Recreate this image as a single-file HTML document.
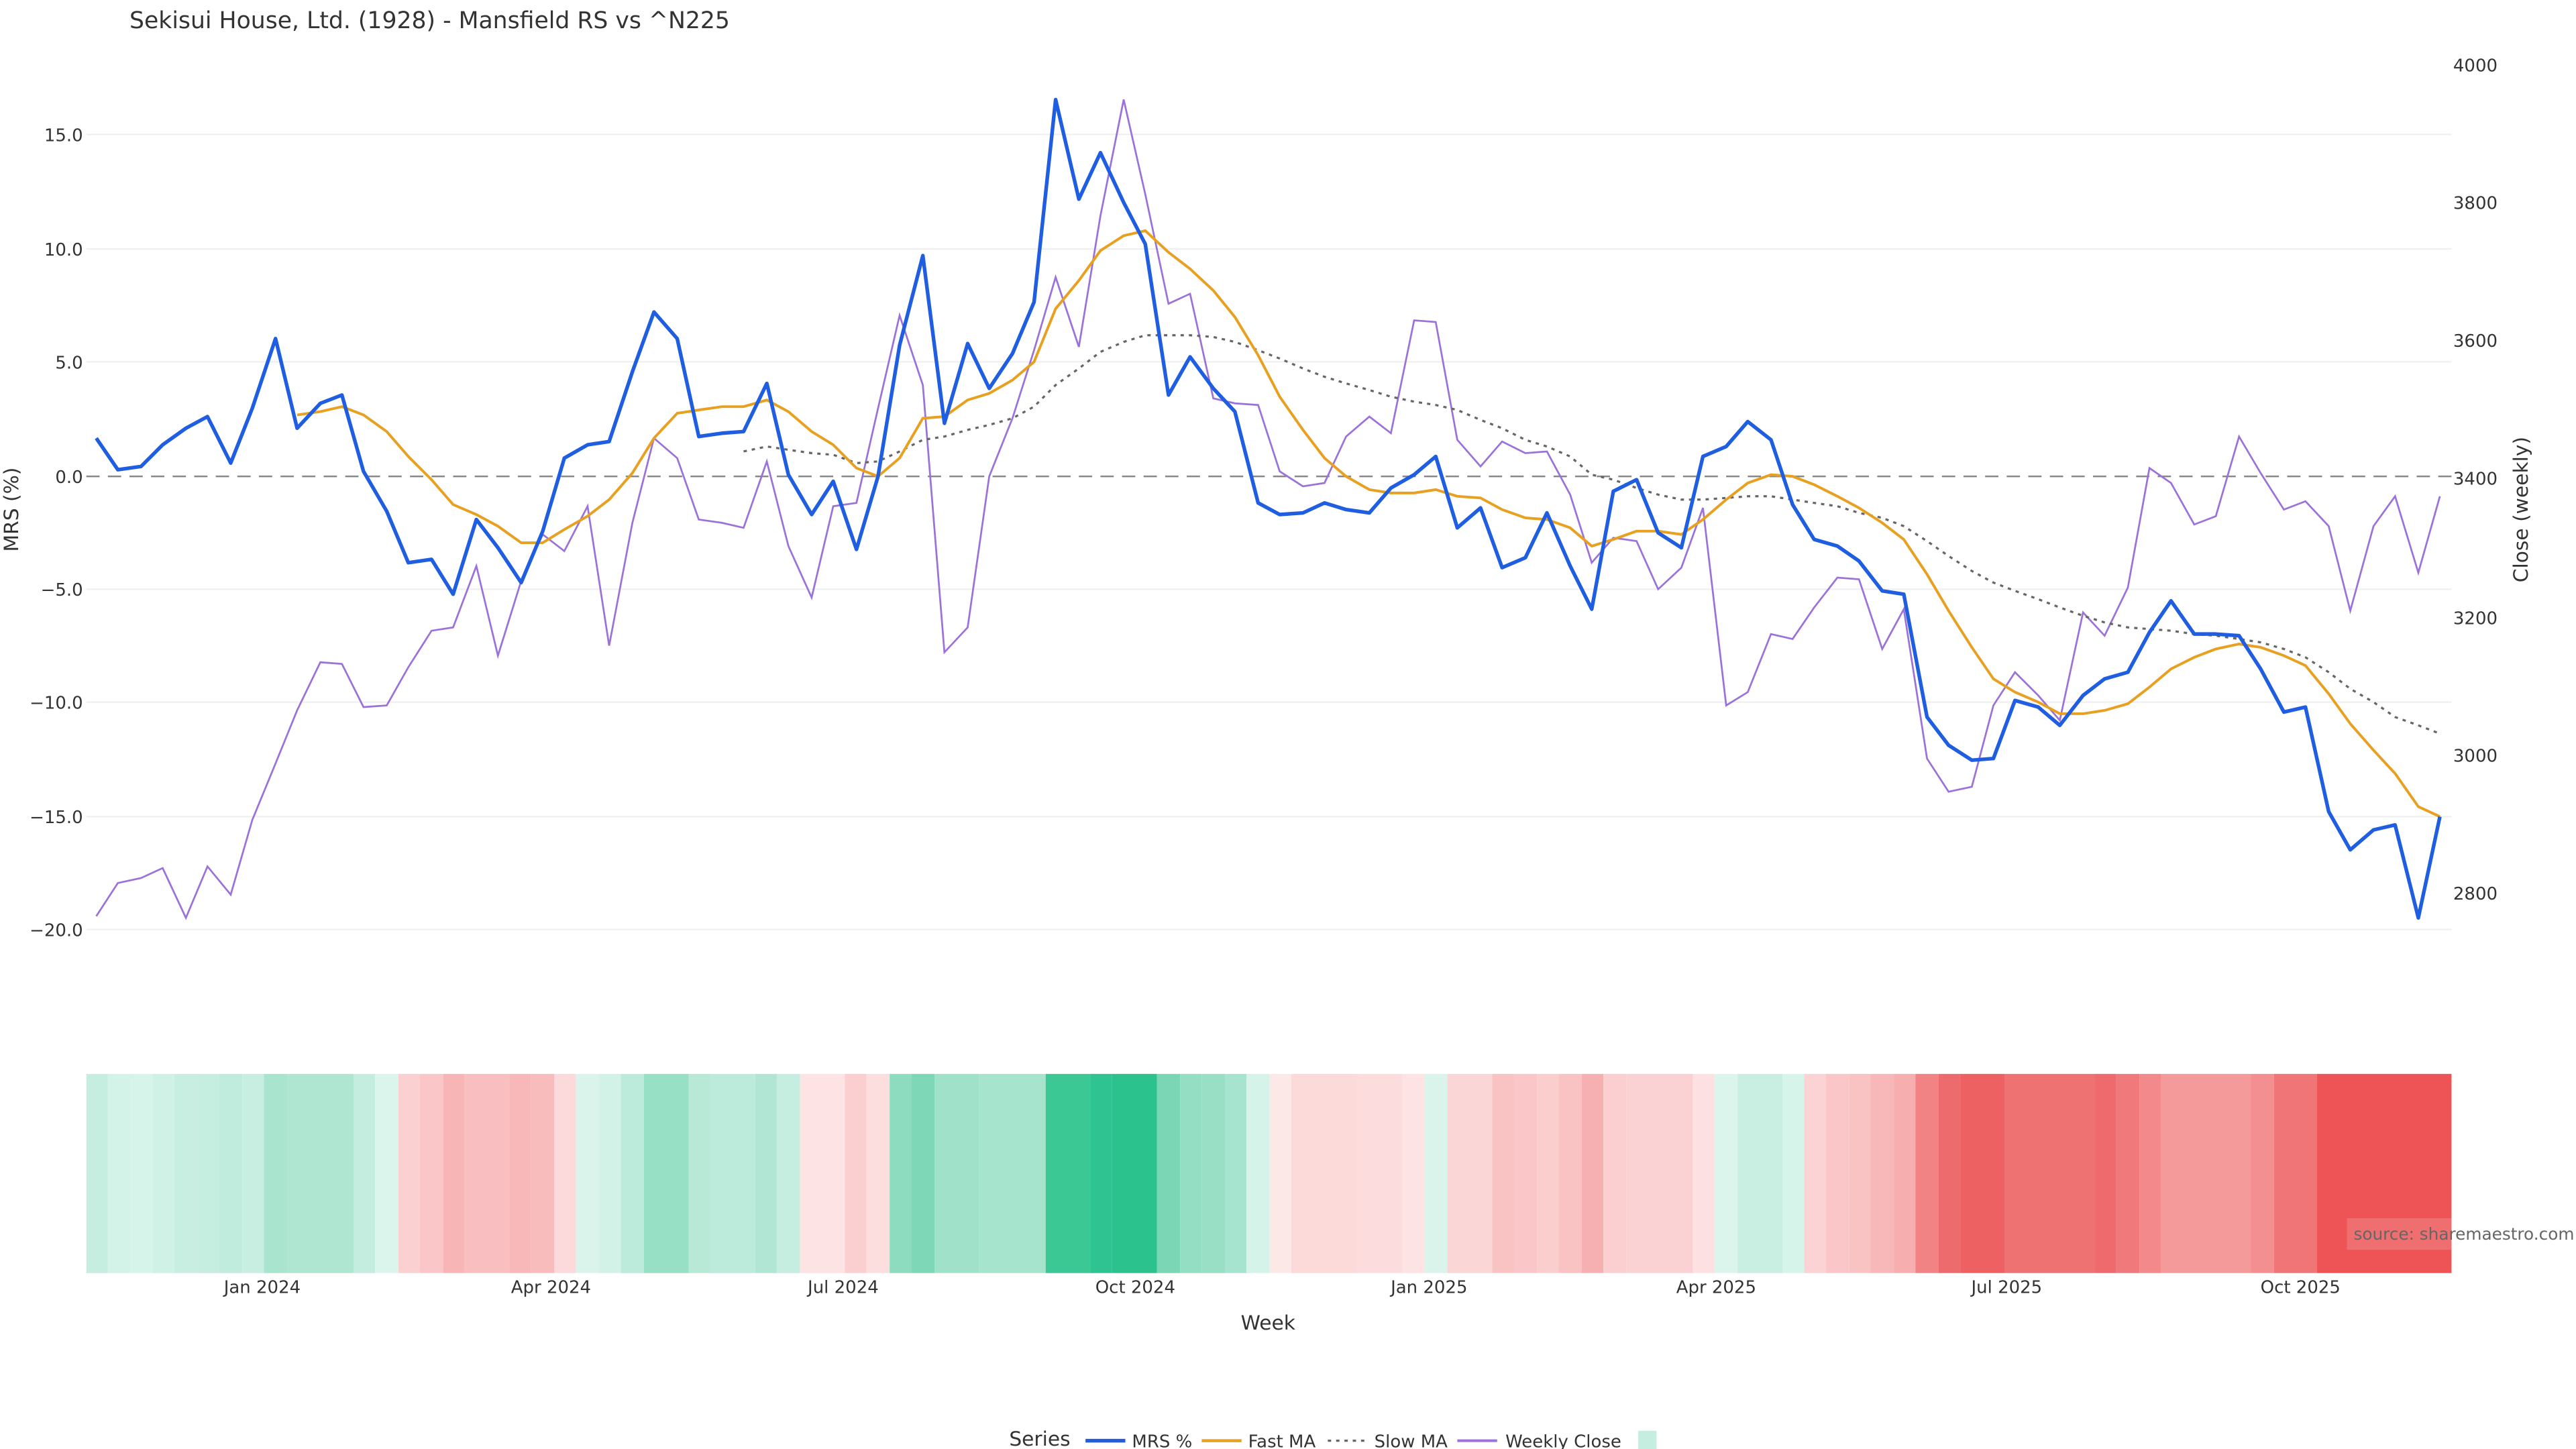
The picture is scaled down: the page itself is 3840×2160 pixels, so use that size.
<!DOCTYPE html>
<html><head><meta charset="utf-8"><style>
html,body{margin:0;padding:0;background:#fff}
svg{display:block}
text{font-family:"DejaVu Sans","Liberation Sans",sans-serif;fill:#333}
</style></head><body>
<svg width="3840" height="2160" viewBox="0 0 1552 873" xmlns="http://www.w3.org/2000/svg">
<text x="78" y="17" font-size="14">Sekisui House, Ltd. (1928) - Mansfield RS vs ^N225</text>
<g stroke="#eeeeee" stroke-width="0.8">
<line x1="52" x2="1477" y1="81" y2="81"/><line x1="52" x2="1477" y1="150" y2="150"/>
<line x1="52" x2="1477" y1="218" y2="218"/><line x1="52" x2="1477" y1="355" y2="355"/>
<line x1="52" x2="1477" y1="423" y2="423"/><line x1="52" x2="1477" y1="492" y2="492"/>
<line x1="52" x2="1477" y1="560" y2="560"/>
</g>
<line x1="52" x2="1477" y1="287" y2="287" stroke="#888" stroke-width="1" stroke-dasharray="8,5"/>
<g font-size="10.5" text-anchor="end">
<text x="50" y="85">15.0</text><text x="50" y="154">10.0</text><text x="50" y="222">5.0</text>
<text x="50" y="291">0.0</text><text x="50" y="359">−5.0</text><text x="50" y="427">−10.0</text>
<text x="50" y="496">−15.0</text><text x="50" y="564">−20.0</text>
</g>
<g font-size="10.5">
<text x="1478" y="43">4000</text><text x="1478" y="126">3800</text><text x="1478" y="209">3600</text>
<text x="1478" y="292">3400</text><text x="1478" y="376">3200</text><text x="1478" y="459">3000</text>
<text x="1478" y="542">2800</text>
</g>
<text transform="translate(11,307) rotate(-90)" font-size="12" text-anchor="middle">MRS (%)</text>
<text transform="translate(1523,307) rotate(-90)" font-size="12" text-anchor="middle">Close (weekly)</text>

<polyline fill="none" stroke="#9b72d9" stroke-width="1.1" points="58,552 71,532 85,529 98,523 112,553 125,522 139,539 152,494 166,460 179,428 193,399 206,400 219,426 233,425 246,402 260,380 273,378 287,341 300,395 314,350 327,322 340,332 354,305 367,389 381,315 394,264 408,276 421,313 435,315 448,318 462,278 475,329 489,360 502,305 516,303 529,246 542,190 556,232 569,393 583,378 596,287 610,252 623,211 636,167 650,209 663,130 677,60 690,117 704,183 717,177 731,240 744,243 758,244 771,284 785,293 798,291 811,263 825,251 838,261 852,193 865,194 878,265 892,281 905,266 919,273 932,272 946,298 959,339 972,324 986,326 999,355 1013,342 1026,306 1040,425 1053,417 1067,382 1080,385 1093,366 1107,348 1120,349 1134,391 1147,367 1161,457 1174,477 1188,474 1201,425 1214,405 1228,419 1241,434 1255,369 1268,383 1282,354 1295,282 1308,291 1322,316 1335,311 1349,263 1362,285 1376,307 1389,302 1403,317 1416,368 1430,317 1443,299 1457,345 1470,299"/>
<polyline fill="none" stroke="#666" stroke-width="1.3" stroke-dasharray="2,3" points="448,272 462,269 475,271 489,273 502,274 516,279 529,278 542,272 556,265 569,263 583,259 596,256 610,252 623,245 636,232 650,222 663,212 677,206 690,202 704,202 717,202 731,203 744,206 758,211 771,216 785,222 798,227 811,231 825,235 838,239 852,242 865,244 878,247 892,253 905,258 919,265 932,269 946,275 959,286 972,289 986,294 999,298 1013,301 1026,301 1040,300 1053,299 1067,299 1080,301 1093,303 1107,305 1120,309 1134,312 1147,317 1161,326 1174,335 1188,344 1201,351 1214,356 1228,361 1241,366 1255,371 1268,375 1282,378 1295,379 1308,380 1322,382 1335,383 1349,385 1362,387 1376,391 1389,396 1403,405 1416,415 1430,423 1443,432 1457,437 1470,442"/>
<polyline fill="none" stroke="#e8a020" stroke-width="1.6" points="179,250 193,248 206,245 219,250 233,260 246,275 260,289 273,304 287,310 300,317 314,327 327,327 340,319 354,311 367,301 381,285 394,264 408,249 421,247 435,245 448,245 462,241 475,248 489,260 502,268 516,282 529,287 542,276 556,252 569,251 583,241 596,237 610,229 623,218 636,186 650,169 663,151 677,142 690,139 704,152 717,162 731,175 744,191 758,214 771,239 785,259 798,276 811,287 825,295 838,297 852,297 865,295 878,299 892,300 905,307 919,312 932,313 946,318 959,329 972,325 986,320 999,320 1013,322 1026,313 1040,301 1053,291 1067,286 1080,287 1093,292 1107,299 1120,306 1134,315 1147,325 1161,346 1174,368 1188,390 1201,409 1214,417 1228,423 1241,430 1255,430 1268,428 1282,424 1295,414 1308,403 1322,396 1335,391 1349,388 1362,390 1376,395 1389,401 1403,418 1416,436 1430,452 1443,466 1457,486 1470,492"/>
<polyline fill="none" stroke="#1f5ee0" stroke-width="2.2" stroke-linejoin="round" points="58,264 71,283 85,281 98,268 112,258 125,251 139,279 152,246 166,204 179,258 193,243 206,238 219,284 233,308 246,339 260,337 273,358 287,313 300,330 314,351 327,320 340,276 354,268 367,266 381,224 394,188 408,204 421,263 435,261 448,260 462,231 475,286 489,310 502,290 516,331 529,287 542,208 556,154 569,255 583,207 596,234 610,213 623,182 636,60 650,120 663,92 677,122 690,147 704,238 717,215 731,234 744,248 758,303 771,310 785,309 798,303 811,307 825,309 838,294 852,286 865,275 878,318 892,306 905,342 919,336 932,309 946,341 959,367 972,296 986,289 999,321 1013,330 1026,275 1040,269 1053,254 1067,265 1080,304 1093,325 1107,329 1120,338 1134,356 1147,358 1161,432 1174,449 1188,458 1201,457 1214,422 1228,426 1241,437 1255,419 1268,409 1282,405 1295,381 1308,362 1322,382 1335,382 1349,383 1362,403 1376,429 1389,426 1403,489 1416,512 1430,500 1443,497 1457,553 1470,492"/>

<g>
<rect x="52" y="647" width="13" height="120" fill="#c6eee0"/>
<rect x="65" y="647" width="13" height="120" fill="#d3f3e8"/>
<rect x="78" y="647" width="14" height="120" fill="#d6f4ea"/>
<rect x="92" y="647" width="13" height="120" fill="#d0f1e6"/>
<rect x="105" y="647" width="14" height="120" fill="#c8eee1"/>
<rect x="119" y="647" width="13" height="120" fill="#c6eee0"/>
<rect x="132" y="647" width="14" height="120" fill="#c0ecdd"/>
<rect x="146" y="647" width="13" height="120" fill="#c8eee1"/>
<rect x="159" y="647" width="14" height="120" fill="#a9e4cf"/>
<rect x="173" y="647" width="40" height="120" fill="#afe6d2"/>
<rect x="213" y="647" width="13" height="120" fill="#c4ecdf"/>
<rect x="226" y="647" width="14" height="120" fill="#dcf5ec"/>
<rect x="240" y="647" width="13" height="120" fill="#fbd0d1"/>
<rect x="253" y="647" width="14" height="120" fill="#fac6c7"/>
<rect x="267" y="647" width="13" height="120" fill="#f8b5b6"/>
<rect x="280" y="647" width="27" height="120" fill="#f9bfc0"/>
<rect x="307" y="647" width="13" height="120" fill="#f8b7b8"/>
<rect x="320" y="647" width="14" height="120" fill="#f9bcbd"/>
<rect x="334" y="647" width="13" height="120" fill="#fcdadb"/>
<rect x="347" y="647" width="14" height="120" fill="#dbf4eb"/>
<rect x="361" y="647" width="13" height="120" fill="#d2f2e7"/>
<rect x="374" y="647" width="14" height="120" fill="#bdebdb"/>
<rect x="388" y="647" width="27" height="120" fill="#97dfc5"/>
<rect x="415" y="647" width="13" height="120" fill="#b8e9d7"/>
<rect x="428" y="647" width="27" height="120" fill="#bceadb"/>
<rect x="455" y="647" width="13" height="120" fill="#b0e6d3"/>
<rect x="468" y="647" width="14" height="120" fill="#c6eee0"/>
<rect x="482" y="647" width="27" height="120" fill="#fde3e3"/>
<rect x="509" y="647" width="13" height="120" fill="#fbcfd0"/>
<rect x="522" y="647" width="14" height="120" fill="#fcdedf"/>
<rect x="536" y="647" width="13" height="120" fill="#8edcc0"/>
<rect x="549" y="647" width="14" height="120" fill="#7ed7b7"/>
<rect x="563" y="647" width="27" height="120" fill="#9fe2c9"/>
<rect x="590" y="647" width="40" height="120" fill="#a6e4cd"/>
<rect x="630" y="647" width="27" height="120" fill="#3cc894"/>
<rect x="657" y="647" width="13" height="120" fill="#2ec390"/>
<rect x="670" y="647" width="27" height="120" fill="#2bc28e"/>
<rect x="697" y="647" width="14" height="120" fill="#7bd6b5"/>
<rect x="711" y="647" width="13" height="120" fill="#94dec3"/>
<rect x="724" y="647" width="14" height="120" fill="#98dfc5"/>
<rect x="738" y="647" width="13" height="120" fill="#a7e4cf"/>
<rect x="751" y="647" width="14" height="120" fill="#d6f3e9"/>
<rect x="765" y="647" width="13" height="120" fill="#fde8e8"/>
<rect x="778" y="647" width="40" height="120" fill="#fcdada"/>
<rect x="818" y="647" width="27" height="120" fill="#fcdcdd"/>
<rect x="845" y="647" width="13" height="120" fill="#fde3e3"/>
<rect x="858" y="647" width="14" height="120" fill="#dbf4eb"/>
<rect x="872" y="647" width="27" height="120" fill="#fbd6d6"/>
<rect x="899" y="647" width="13" height="120" fill="#f9c3c4"/>
<rect x="912" y="647" width="14" height="120" fill="#fac6c7"/>
<rect x="926" y="647" width="13" height="120" fill="#fbcece"/>
<rect x="939" y="647" width="14" height="120" fill="#f9c2c3"/>
<rect x="953" y="647" width="13" height="120" fill="#f7b0b1"/>
<rect x="966" y="647" width="14" height="120" fill="#fbcfd0"/>
<rect x="980" y="647" width="40" height="120" fill="#fbd2d3"/>
<rect x="1020" y="647" width="13" height="120" fill="#fde1e2"/>
<rect x="1033" y="647" width="14" height="120" fill="#dcf5ec"/>
<rect x="1047" y="647" width="27" height="120" fill="#c8efe2"/>
<rect x="1074" y="647" width="13" height="120" fill="#d7f4ea"/>
<rect x="1087" y="647" width="13" height="120" fill="#fbd3d4"/>
<rect x="1100" y="647" width="14" height="120" fill="#fac6c7"/>
<rect x="1114" y="647" width="13" height="120" fill="#f9c3c4"/>
<rect x="1127" y="647" width="14" height="120" fill="#f8b8b9"/>
<rect x="1141" y="647" width="13" height="120" fill="#f6aeaf"/>
<rect x="1154" y="647" width="14" height="120" fill="#f18384"/>
<rect x="1168" y="647" width="13" height="120" fill="#ee6b6d"/>
<rect x="1181" y="647" width="27" height="120" fill="#ed6163"/>
<rect x="1208" y="647" width="54" height="120" fill="#ef7273"/>
<rect x="1262" y="647" width="13" height="120" fill="#ee6a6c"/>
<rect x="1275" y="647" width="14" height="120" fill="#f07a7b"/>
<rect x="1289" y="647" width="13" height="120" fill="#f28a8b"/>
<rect x="1302" y="647" width="54" height="120" fill="#f49a9b"/>
<rect x="1356" y="647" width="14" height="120" fill="#f38f90"/>
<rect x="1370" y="647" width="26" height="120" fill="#ef7576"/>
<rect x="1396" y="647" width="81" height="120" fill="#ee5455"/>
</g>
<rect x="1414" y="734" width="63" height="19" fill="#f08080" opacity="0.6"/>
<text x="1418" y="747" font-size="10" fill="#666" style="fill:#666">source: sharemaestro.com</text>

<g font-size="10.5" text-anchor="middle">
<text x="158" y="779">Jan 2024</text><text x="332" y="779">Apr 2024</text><text x="508" y="779">Jul 2024</text>
<text x="684" y="779">Oct 2024</text><text x="861" y="779">Jan 2025</text><text x="1034" y="779">Apr 2025</text>
<text x="1209" y="779">Jul 2025</text><text x="1386" y="779">Oct 2025</text>
</g>
<text x="764" y="801" font-size="12" text-anchor="middle">Week</text>

<text x="608" y="871" font-size="12">Series</text>
<line x1="654" x2="678" y1="868" y2="868" stroke="#1f5ee0" stroke-width="2.2"/>
<text x="682" y="872" font-size="10.5">MRS %</text>
<line x1="724" x2="748" y1="868" y2="868" stroke="#e8a020" stroke-width="1.8"/>
<text x="752" y="872" font-size="10.5">Fast MA</text>
<line x1="800" x2="824" y1="868" y2="868" stroke="#666" stroke-width="1.3" stroke-dasharray="2,3"/>
<text x="828" y="872" font-size="10.5">Slow MA</text>
<line x1="878" x2="902" y1="868" y2="868" stroke="#9b72d9" stroke-width="1.6"/>
<text x="907" y="872" font-size="10.5">Weekly Close</text>
<rect x="987" y="862" width="11" height="11" fill="#c6eee0"/>
</svg>
</body></html>
